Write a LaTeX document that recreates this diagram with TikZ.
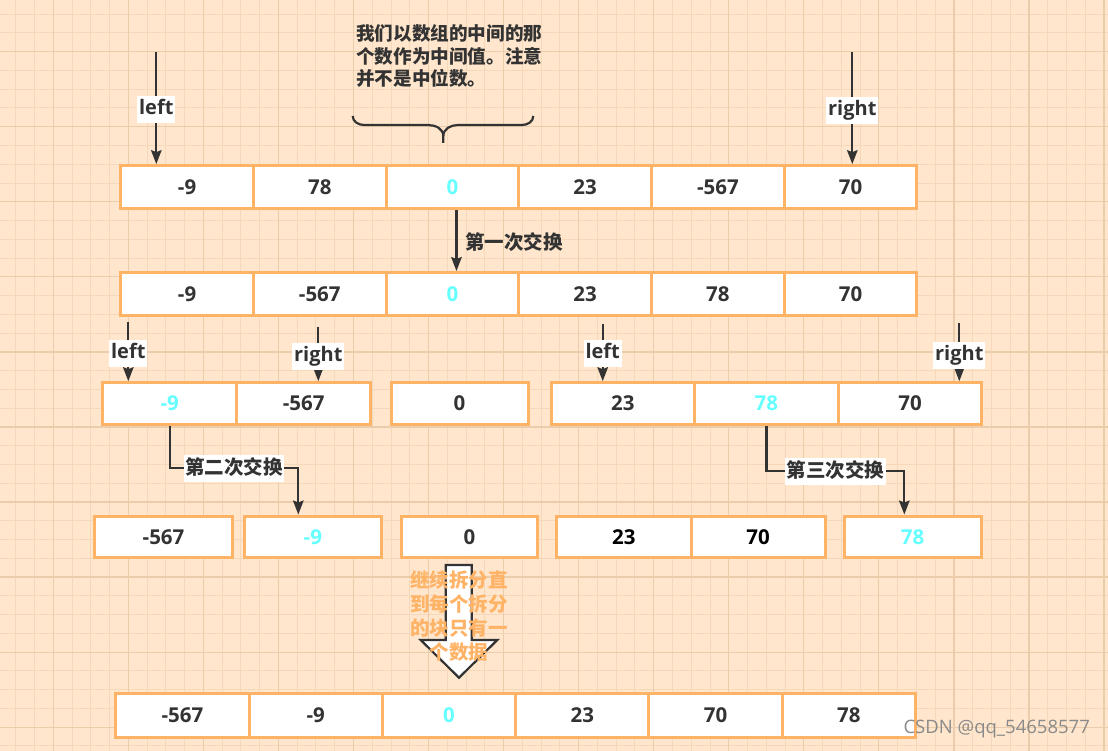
\documentclass[tikz,border=0pt]{standalone}
\usepackage{fontspec}
\setmainfont{Open Sans}
\newfontfamily\cjk{Noto Sans CJK SC}
\usetikzlibrary{arrows.meta}

\definecolor{paper}{HTML}{FFE6CC}
\definecolor{gridminor}{HTML}{F5D8BA}
\definecolor{gridmajor}{HTML}{EBCDAB}
\definecolor{cellline}{HTML}{FFB366}
\definecolor{ink}{HTML}{333333}
\definecolor{pivot}{HTML}{66FFFF}
\definecolor{wmgray}{HTML}{8A8A8A}

\begin{document}
\begin{tikzpicture}[x=1pt,y=-1pt,
  cell/.style={draw=cellline, line width=3pt, fill=white, inner sep=0pt,
    font=\fontsize{20.5}{24}\selectfont\bfseries, text=ink},
  r1/.style={cell, minimum width=132.7pt, minimum height=43.3pt},
  r5/.style={cell, minimum width=133.3pt, minimum height=44pt},
  hl/.style={text=pivot},
  arr/.style={draw=ink, line width=2.2pt, -{Stealth[length=14pt,width=10.5pt,inset=2pt]}},
  tag/.style={fill=white, inner xsep=2pt, inner ysep=3.5pt, text height=15pt, text depth=5pt,
    font=\fontsize{20}{24}\selectfont\bfseries, text=ink},
  hantag/.style={fill=white, inner xsep=1.5pt, inner ysep=3.5pt, text height=16pt, text depth=4pt,
    font=\cjk\bfseries\fontsize{19.5}{23}\selectfont, text=ink},
  hantext/.style={font=\cjk\bfseries\fontsize{19.5}{23}\selectfont, text=ink, inner sep=0pt},
]
\useasboundingbox (0,0) rectangle (1108,751);
\fill[paper] (0,0) rectangle (1108,751);

% squared paper
\foreach \i in {-2,...,56}
  \draw[gridminor, line width=1pt] ({53.3+18.763*\i},0) -- ++(0,751);
\foreach \j in {-2,...,37}
  \draw[gridminor, line width=1pt] (0,{51.7+18.763*\j}) -- ++(1108,0);
\foreach \i in {0,...,14}
  \draw[gridmajor, line width=1.2pt] ({53.3+75.05*\i},0) -- ++(0,751);
\foreach \j in {0,...,9}
  \draw[gridmajor, line width=1.2pt] (0,{51.7+75.05*\j}) -- ++(1108,0);

% row 1: the starting array
\node[r1] (r1a) at (187.05,187.3) {-9};
\node[r1] (r1b) at (319.75,187.3) {78};
\node[r1,hl] (r1c) at (452.45,187.3) {0};
\node[r1] (r1d) at (585.15,187.3) {23};
\node[r1] (r1e) at (717.85,187.3) {-567};
\node[r1] (r1f) at (850.55,187.3) {70};

% row 2: after the first swap
\node[r1] (r2a) at (187.05,294.2) {-9};
\node[r1] (r2b) at (319.75,294.2) {-567};
\node[r1,hl] (r2c) at (452.45,294.2) {0};
\node[r1] (r2d) at (585.15,294.2) {23};
\node[r1] (r2e) at (717.85,294.2) {78};
\node[r1] (r2f) at (850.55,294.2) {70};

% row 3: split around the pivot
\node[cell, minimum width=134pt, minimum height=41.6pt, hl] (r3a) at (169.7,403.5) {-9};
\node[cell, minimum width=134pt, minimum height=41.6pt] (r3b) at (303.7,403.5) {-567};
\node[cell, minimum width=137pt, minimum height=41.6pt] (r3c) at (459.5,403.5) {0};
\node[cell, minimum width=143.6pt, minimum height=41.6pt] (r3d) at (622.8,403.5) {23};
\node[cell, minimum width=143.6pt, minimum height=41.6pt, hl] (r3e) at (766.4,403.5) {78};
\node[cell, minimum width=143.6pt, minimum height=41.6pt] (r3f) at (910,403.5) {70};

% row 4: after the second and third swaps
\node[cell, minimum width=137.6pt, minimum height=41.3pt] (r4a) at (163.5,536.7) {-567};
\node[cell, minimum width=137.7pt, minimum height=41.3pt, hl] (r4b) at (312.85,536.7) {-9};
\node[cell, minimum width=136.7pt, minimum height=41.3pt] (r4c) at (469.35,536.7) {0};
\node[cell, minimum width=134.3pt, minimum height=41.3pt, text=black] (r4d) at (623.85,536.7) {23};
\node[cell, minimum width=134pt, minimum height=41.3pt, text=black] (r4e) at (758,536.7) {70};
\node[cell, minimum width=136.7pt, minimum height=41.3pt, hl] (r4f) at (912.65,536.7) {78};

% row 5: the sorted result
\node[r5] (r5a) at (182.35,715.3) {-567};
\node[r5] (r5b) at (315.65,715.3) {-9};
\node[r5,hl] (r5c) at (448.95,715.3) {0};
\node[r5] (r5d) at (582.25,715.3) {23};
\node[r5] (r5e) at (715.55,715.3) {70};
\node[r5] (r5f) at (848.85,715.3) {78};

% note about the pivot
\node[hantext, anchor=west, align=left, font=\cjk\bfseries\fontsize{18.6}{22.5}\selectfont]
  (note) at (356,56) {我们以数组的中间的那\\个数作为中间值。注意\\并不是中位数。};
\draw[ink, line width=2.2pt]
  (352.7,116) to[out=-90,in=180] (364,125) -- (428,125) to[out=0,in=90] (443.3,136)
  -- (443.3,143);
\draw[ink, line width=2.2pt]
  (533.3,116) to[out=-90,in=0] (522,125) -- (458,125) to[out=180,in=90] (443.3,136);

% pointers on the first array
\coordinate (tl) at (156.3,52);
\coordinate (tr) at (852.3,52);
\draw[arr] (tl) -- node[tag, pos=0.517] {left} (tl |- r1a.north);
\draw[arr] (tr) -- node[tag, pos=0.526] {right} (tr |- r1f.north);

% first swap
\draw[arr] ([xshift=4pt]r1c.south) -- ([xshift=4pt]r2c.north);
\node[hantext, anchor=west] (s1) at (465,241.7) {第一次交换};

% pointers on the two halves
\coordinate (l2) at (128.3,321.7);
\coordinate (q2) at (318.3,326.7);
\coordinate (l3) at (602.7,324);
\coordinate (q3) at (959.3,323.3);
\draw[arr] (l2) -- node[tag, pos=0.53] {left} (l2 |- r3a.north);
\draw[arr] (q2) -- node[tag, pos=0.55] {right} (q2 |- r3b.north);
\draw[arr] (l3) -- node[tag, pos=0.52] {left} (l3 |- r3d.north);
\draw[arr] (q3) -- node[tag, pos=0.55] {right} (q3 |- r3f.north);

% second swap
\coordinate (k2) at (298.3,468.3);
\draw[arr] (r3a.south) |- (k2) -- (k2 |- r4b.north);
\path (r3a.south |- k2) -- node[hantag] {第二次交换} (k2);

% third swap
\coordinate (k3) at (904.3,471);
\draw[arr] (r3e.south) |- (k3) -- (k3 |- r4f.north);
\path (r3e.south |- k3) -- node[hantag] {第三次交换} (k3);

% hollow arrow down to the result
\draw[ink, line width=2.2pt, fill=white, line join=miter]
  (445.7,565) -- (471.7,565) -- (471.7,640) -- (497.3,640) -- (459,677.7)
  -- (420.7,640) -- (445.7,640) -- cycle;
\node[hantext, text=cellline, align=center, font=\cjk\bfseries\fontsize{19.5}{24.3}\selectfont]
  (cont) at (459,616) {继续拆分直\\到每个拆分\\的块只有一\\个数据};

% signature
\node[font=\fontsize{18.5}{22}\selectfont, text=wmgray, inner sep=0pt] (sig) at (996.7,729.5)
  {CSDN @qq\_54658577};
\end{tikzpicture}
\end{document}
